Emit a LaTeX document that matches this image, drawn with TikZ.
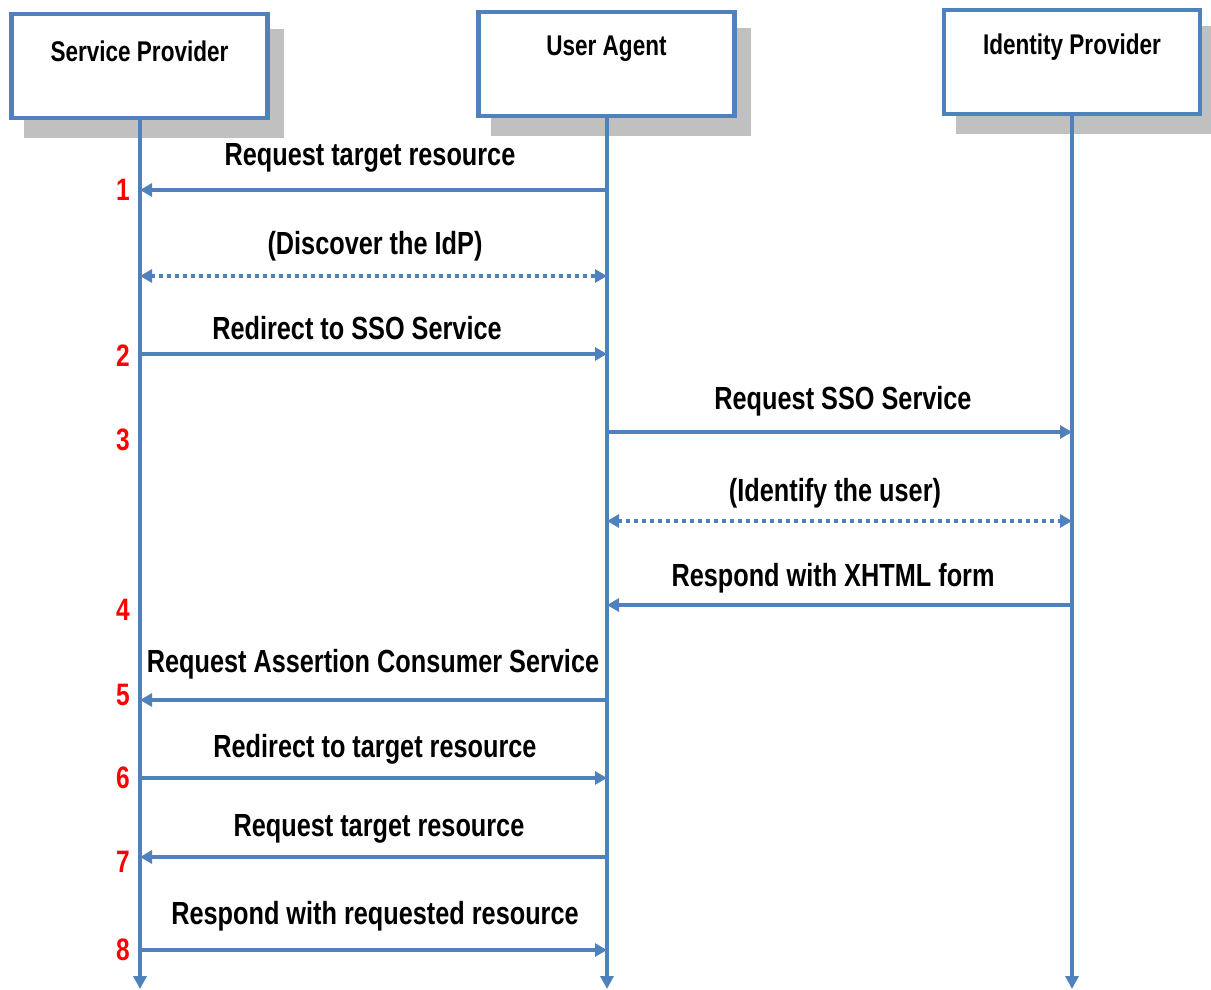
\documentclass[tikz,border=0pt]{standalone}
\usepackage{fontspec}
\setmainfont{Liberation Sans}[FakeStretch=0.79]
\usetikzlibrary{arrows.meta}
\definecolor{lineblue}{HTML}{4F81BD}
\definecolor{shadowgray}{HTML}{C0C0C0}
\definecolor{stepred}{HTML}{FF0000}
\begin{document}
\begin{tikzpicture}[x=1pt,y=-1pt,
  actor/.style={draw=lineblue, line width=4.5pt, fill=white,
    minimum width=256pt, minimum height=104pt, inner sep=0pt},
  actorshadow/.style={fill=shadowgray, minimum width=260pt,
    minimum height=108pt, inner sep=0pt},
  actortitle/.style={font=\bfseries\fontsize{28.5}{32}\selectfont, inner sep=0pt},
  lifeline/.style={lineblue, line width=4.5pt, -{Triangle[length=13pt,width=13pt]}},
  msg/.style={lineblue, line width=4.5pt, -{Triangle[length=12pt,width=13pt]}},
  dotmsg/.style={lineblue, line width=4.5pt,
    {Triangle[length=12pt,width=13pt]}-{Triangle[length=12pt,width=13pt]},
    dash pattern=on 4pt off 4pt},
  msglabel/.style={font=\bfseries\fontsize{32}{36}\selectfont, inner sep=0pt},
  stepnum/.style={text=stepred, font=\bfseries\fontsize{31}{34}\selectfont, inner sep=0pt}
]
\useasboundingbox (0,0) rectangle (1211,990);

% drop shadows behind the participant boxes
\node[actorshadow] (spshadow) at (153.5,83.5) {};
\node[actorshadow] (uashadow) at (620.5,82) {};
\node[actorshadow] (idpshadow) at (1086,80) {};

% participant boxes
\node[actor] (sp) at (139.5,66) {};
\node[actor] (ua) at (606.5,64) {};
\node[actor] (idp) at (1072,62) {};
\node[actortitle] (sptitle) at (139.5,51) {Service Provider};
\node[actortitle] (uatitle) at (606.5,49) {User Agent};
\node[actortitle] (idptitle) at (1072,47) {Identity Provider};

% lifelines
\coordinate (spend) at (140,989);
\coordinate (uaend) at (607,989);
\coordinate (idpend) at (1072,989);
\draw[lifeline] (sp.south -| spend) -- (spend);
\draw[lifeline] (ua.south -| uaend) -- (uaend);
\draw[lifeline] (idp.south -| idpend) -- (idpend);

% messages
\draw[msg] (uaend |- {0,190}) -- (spend |- {0,190});
\node[msglabel] (l1) at (370,158) {Request target resource};

\draw[dotmsg] (spend |- {0,276}) -- (uaend |- {0,276});
\node[msglabel] (ld1) at (375,246) {(Discover the IdP)};

\draw[msg] (spend |- {0,354}) -- (uaend |- {0,354});
\node[msglabel] (l2) at (357,328) {Redirect to SSO Service};

\draw[msg] (uaend |- {0,432}) -- (idpend |- {0,432});
\node[msglabel] (l3) at (843,401) {Request SSO Service};

\draw[dotmsg] (uaend |- {0,521}) -- (idpend |- {0,521});
\node[msglabel] (ld2) at (835,493) {(Identify the user)};

\draw[msg] (idpend |- {0,605}) -- (uaend |- {0,605});
\node[msglabel] (l4) at (833,578) {Respond with XHTML form};

\draw[msg] (uaend |- {0,700}) -- (spend |- {0,700});
\node[msglabel] (l5) at (373,664) {Request Assertion Consumer Service};

\draw[msg] (spend |- {0,778}) -- (uaend |- {0,778});
\node[msglabel] (l6) at (375,749) {Redirect to target resource};

\draw[msg] (uaend |- {0,857}) -- (spend |- {0,857});
\node[msglabel] (l7) at (379,829) {Request target resource};

\draw[msg] (spend |- {0,950}) -- (uaend |- {0,950});
\node[msglabel] (l8) at (375,916) {Respond with requested resource};

% step numbers
\node[stepnum] (n1) at (123,190) {1};
\node[stepnum] (n2) at (123,356) {2};
\node[stepnum] (n3) at (123,440) {3};
\node[stepnum] (n4) at (123,610) {4};
\node[stepnum] (n5) at (123,695) {5};
\node[stepnum] (n6) at (123,778) {6};
\node[stepnum] (n7) at (123,862) {7};
\node[stepnum] (n8) at (123,950) {8};
\end{tikzpicture}
\end{document}
